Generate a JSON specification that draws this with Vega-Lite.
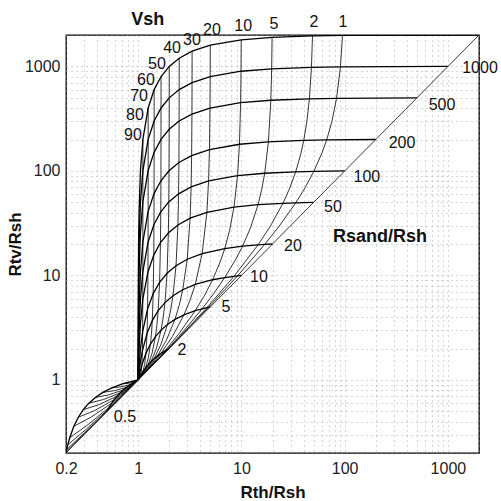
{
  "$schema": "https://vega.github.io/schema/vega-lite/v6.json",
  "width": 413,
  "height": 418,
  "autosize": {"type": "none"},
  "padding": {"left": 66, "top": 35, "right": 22, "bottom": 48},
  "background": "white",
  "config": {
    "view": {"stroke": "black", "strokeWidth": 1.3},
    "font": "Liberation Sans"
  },
  "datasets": {
    "rsand": [
      {"c":"r2000","x":2000,"y":2000},{"c":"r2000","x":95.28,"y":1980},{"c":"r2000","x":48.80,"y":1960},{"c":"r2000","x":19.81,"y":1900},{"c":"r2000","x":9.955,"y":1800.1},{"c":"r2000","x":4.990,"y":1600.2},{"c":"r2000","x":3.329,"y":1400.3},{"c":"r2000","x":2.498,"y":1200.4},{"c":"r2000","x":1.999,"y":1000.5},{"c":"r2000","x":1.6661,"y":800.6},{"c":"r2000","x":1.4283,"y":600.7},{"c":"r2000","x":1.2498,"y":400.8},{"c":"r2000","x":1.1111,"y":200.9},{"c":"r2000","x":1.0526,"y":100.95},{"c":"r2000","x":1.0204,"y":40.98},{"c":"r2000","x":1.0101,"y":20.99},{"c":"r2000","x":1.0050,"y":10.995},{"c":"r2000","x":1,"y":1},
      {"c":"r1000","x":1000,"y":1000},{"c":"r1000","x":90.99,"y":990},{"c":"r1000","x":47.66,"y":980},{"c":"r1000","x":19.63,"y":950.05},{"c":"r1000","x":9.911,"y":900.1},{"c":"r1000","x":4.980,"y":800.2},{"c":"r1000","x":3.326,"y":700.3},{"c":"r1000","x":2.496,"y":600.4},{"c":"r1000","x":1.998,"y":500.5},{"c":"r1000","x":1.6656,"y":400.6},{"c":"r1000","x":1.4280,"y":300.7},{"c":"r1000","x":1.2497,"y":200.8},{"c":"r1000","x":1.1110,"y":100.9},{"c":"r1000","x":1.0526,"y":50.95},{"c":"r1000","x":1.0204,"y":20.98},{"c":"r1000","x":1.0101,"y":10.99},{"c":"r1000","x":1,"y":1},
      {"c":"r500","x":500,"y":500},{"c":"r500","x":83.47,"y":495.01},{"c":"r500","x":45.54,"y":490.02},{"c":"r500","x":19.27,"y":475.05},{"c":"r500","x":9.823,"y":450.1},{"c":"r500","x":4.960,"y":400.2},{"c":"r500","x":3.318,"y":350.3},{"c":"r500","x":2.4925,"y":300.4},{"c":"r500","x":1.996,"y":250.5},{"c":"r500","x":1.6644,"y":200.6},{"c":"r500","x":1.4274,"y":150.7},{"c":"r500","x":1.2494,"y":100.8},{"c":"r500","x":1.1109,"y":50.9},{"c":"r500","x":1.0525,"y":25.95},{"c":"r500","x":1.0204,"y":10.98},{"c":"r500","x":1.0101,"y":5.99},{"c":"r500","x":1,"y":1},
      {"c":"r200","x":200,"y":200},{"c":"r200","x":66.89,"y":198.01},{"c":"r200","x":40.16,"y":196.02},{"c":"r200","x":18.26,"y":190.05},{"c":"r200","x":9.569,"y":180.1},{"c":"r200","x":4.902,"y":160.2},{"c":"r200","x":3.295,"y":140.3},{"c":"r200","x":2.481,"y":120.4},{"c":"r200","x":1.990,"y":100.5},{"c":"r200","x":1.6611,"y":80.6},{"c":"r200","x":1.4255,"y":60.7},{"c":"r200","x":1.2484,"y":40.8},{"c":"r200","x":1.1105,"y":20.9},{"c":"r200","x":1.0524,"y":10.95},{"c":"r200","x":1.0203,"y":4.98},{"c":"r200","x":1.0100,"y":2.99},{"c":"r200","x":1,"y":1},
      {"c":"r100","x":100,"y":100},{"c":"r100","x":50.25,"y":99.01},{"c":"r100","x":33.56,"y":98.02},{"c":"r100","x":16.81,"y":95.05},{"c":"r100","x":9.174,"y":90.1},{"c":"r100","x":4.808,"y":80.2},{"c":"r100","x":3.257,"y":70.3},{"c":"r100","x":2.463,"y":60.4},{"c":"r100","x":1.980,"y":50.5},{"c":"r100","x":1.6556,"y":40.6},{"c":"r100","x":1.4225,"y":30.7},{"c":"r100","x":1.2469,"y":20.8},{"c":"r100","x":1.1099,"y":10.9},{"c":"r100","x":1.0521,"y":5.95},{"c":"r100","x":1.0202,"y":2.98},{"c":"r100","x":1.0100,"y":1.99},{"c":"r100","x":1,"y":1},
      {"c":"r50","x":50,"y":50},{"c":"r50","x":33.56,"y":49.51},{"c":"r50","x":25.25,"y":49.02},{"c":"r50","x":14.49,"y":47.55},{"c":"r50","x":8.475,"y":45.1},{"c":"r50","x":4.630,"y":40.2},{"c":"r50","x":3.185,"y":35.3},{"c":"r50","x":2.427,"y":30.4},{"c":"r50","x":1.961,"y":25.5},{"c":"r50","x":1.6447,"y":20.6},{"c":"r50","x":1.4164,"y":15.7},{"c":"r50","x":1.2438,"y":10.8},{"c":"r50","x":1.1086,"y":5.9},{"c":"r50","x":1.0515,"y":3.45},{"c":"r50","x":1.0200,"y":1.98},{"c":"r50","x":1,"y":1},
      {"c":"r20","x":20,"y":20},{"c":"r20","x":16.81,"y":19.81},{"c":"r20","x":14.49,"y":19.62},{"c":"r20","x":10.26,"y":19.05},{"c":"r20","x":6.897,"y":18.1},{"c":"r20","x":4.167,"y":16.2},{"c":"r20","x":2.985,"y":14.3},{"c":"r20","x":2.326,"y":12.4},{"c":"r20","x":1.905,"y":10.5},{"c":"r20","x":1.6129,"y":8.6},{"c":"r20","x":1.3986,"y":6.7},{"c":"r20","x":1.2346,"y":4.8},{"c":"r20","x":1.1050,"y":2.9},{"c":"r20","x":1.0499,"y":1.95},{"c":"r20","x":1,"y":1},
      {"c":"r10","x":10,"y":10},{"c":"r10","x":9.174,"y":9.91},{"c":"r10","x":8.475,"y":9.82},{"c":"r10","x":6.897,"y":9.55},{"c":"r10","x":5.263,"y":9.1},{"c":"r10","x":3.571,"y":8.2},{"c":"r10","x":2.703,"y":7.3},{"c":"r10","x":2.174,"y":6.4},{"c":"r10","x":1.818,"y":5.5},{"c":"r10","x":1.5625,"y":4.6},{"c":"r10","x":1.3699,"y":3.7},{"c":"r10","x":1.2195,"y":2.8},{"c":"r10","x":1.0989,"y":1.9},{"c":"r10","x":1.0471,"y":1.45},{"c":"r10","x":1,"y":1},
      {"c":"r5","x":5,"y":5},{"c":"r5","x":4.808,"y":4.96},{"c":"r5","x":4.630,"y":4.92},{"c":"r5","x":4.167,"y":4.8},{"c":"r5","x":3.571,"y":4.6},{"c":"r5","x":2.778,"y":4.2},{"c":"r5","x":2.273,"y":3.8},{"c":"r5","x":1.923,"y":3.4},{"c":"r5","x":1.667,"y":3.0},{"c":"r5","x":1.4706,"y":2.6},{"c":"r5","x":1.3158,"y":2.2},{"c":"r5","x":1.1905,"y":1.8},{"c":"r5","x":1.0870,"y":1.4},{"c":"r5","x":1,"y":1},
      {"c":"r2","x":2,"y":2},{"c":"r2","x":1.905,"y":1.95},{"c":"r2","x":1.818,"y":1.9},{"c":"r2","x":1.667,"y":1.8},{"c":"r2","x":1.538,"y":1.7},{"c":"r2","x":1.4286,"y":1.6},{"c":"r2","x":1.3333,"y":1.5},{"c":"r2","x":1.25,"y":1.4},{"c":"r2","x":1.1765,"y":1.3},{"c":"r2","x":1.1111,"y":1.2},{"c":"r2","x":1.0526,"y":1.1},{"c":"r2","x":1,"y":1},
      {"c":"r0.5","x":0.5,"y":0.5},{"c":"r0.5","x":0.5263,"y":0.55},{"c":"r0.5","x":0.5556,"y":0.6},{"c":"r0.5","x":0.5882,"y":0.65},{"c":"r0.5","x":0.625,"y":0.7},{"c":"r0.5","x":0.6667,"y":0.75},{"c":"r0.5","x":0.7143,"y":0.8},{"c":"r0.5","x":0.7692,"y":0.85},{"c":"r0.5","x":0.8333,"y":0.9},{"c":"r0.5","x":0.9091,"y":0.95},{"c":"r0.5","x":1,"y":1},
      {"c":"r0.2","x":0.2,"y":0.2},{"c":"r0.2","x":0.2016,"y":0.208},{"c":"r0.2","x":0.2033,"y":0.216},{"c":"r0.2","x":0.2083,"y":0.24},{"c":"r0.2","x":0.2174,"y":0.28},{"c":"r0.2","x":0.2381,"y":0.36},{"c":"r0.2","x":0.2632,"y":0.44},{"c":"r0.2","x":0.2941,"y":0.52},{"c":"r0.2","x":0.3333,"y":0.6},{"c":"r0.2","x":0.3846,"y":0.68},{"c":"r0.2","x":0.4545,"y":0.76},{"c":"r0.2","x":0.5556,"y":0.84},{"c":"r0.2","x":0.7143,"y":0.92},{"c":"r0.2","x":0.8333,"y":0.96},{"c":"r0.2","x":1,"y":1}
    ],
    "vshale": [
      {"c":"v1","x":0.2016,"y":0.208},{"c":"v1","x":0.3021,"y":0.307},{"c":"v1","x":0.5025,"y":0.505},{"c":"v1","x":0.7021,"y":0.703},{"c":"v1","x":1,"y":1},{"c":"v1","x":1.980,"y":1.99},{"c":"v1","x":4.808,"y":4.96},{"c":"v1","x":9.174,"y":9.91},{"c":"v1","x":16.81,"y":19.81},{"c":"v1","x":23.26,"y":29.71},{"c":"v1","x":33.56,"y":49.51},{"c":"v1","x":41.42,"y":69.31},{"c":"v1","x":50.25,"y":99.01},{"c":"v1","x":60.24,"y":148.51},{"c":"v1","x":66.89,"y":198.01},{"c":"v1","x":75.19,"y":297.01},{"c":"v1","x":83.47,"y":495.01},{"c":"v1","x":90.99,"y":990.01},{"c":"v1","x":95.28,"y":1980},
      {"c":"v2","x":0.2033,"y":0.216},{"c":"v2","x":0.3043,"y":0.314},{"c":"v2","x":0.5051,"y":0.51},{"c":"v2","x":0.7042,"y":0.706},{"c":"v2","x":1,"y":1},{"c":"v2","x":1.961,"y":1.98},{"c":"v2","x":4.630,"y":4.92},{"c":"v2","x":8.475,"y":9.82},{"c":"v2","x":14.49,"y":19.62},{"c":"v2","x":18.99,"y":29.42},{"c":"v2","x":25.25,"y":49.02},{"c":"v2","x":29.41,"y":68.62},{"c":"v2","x":33.56,"y":98.02},{"c":"v2","x":37.69,"y":147.02},{"c":"v2","x":40.16,"y":196.02},{"c":"v2","x":42.98,"y":294.02},{"c":"v2","x":45.54,"y":490.02},{"c":"v2","x":47.66,"y":980.02},{"c":"v2","x":48.80,"y":1960},
      {"c":"v5","x":0.2083,"y":0.24},{"c":"v5","x":0.3109,"y":0.335},{"c":"v5","x":0.5128,"y":0.525},{"c":"v5","x":0.7107,"y":0.715},{"c":"v5","x":1,"y":1},{"c":"v5","x":1.4634,"y":1.475},{"c":"v5","x":1.905,"y":1.95},{"c":"v5","x":2.727,"y":2.9},{"c":"v5","x":4.167,"y":4.8},{"c":"v5","x":5.385,"y":6.7},{"c":"v5","x":6.897,"y":9.55},{"c":"v5","x":8.824,"y":14.3},{"c":"v5","x":10.26,"y":19.05},{"c":"v5","x":12.24,"y":28.55},{"c":"v5","x":14.49,"y":47.55},{"c":"v5","x":15.73,"y":66.55},{"c":"v5","x":16.81,"y":95.05},{"c":"v5","x":18.26,"y":190.05},{"c":"v5","x":19.27,"y":475.05},{"c":"v5","x":19.63,"y":950.05},{"c":"v5","x":19.81,"y":1900.05},
      {"c":"v10","x":0.2174,"y":0.28},{"c":"v10","x":0.3226,"y":0.37},{"c":"v10","x":0.5263,"y":0.55},{"c":"v10","x":0.7216,"y":0.73},{"c":"v10","x":1,"y":1},{"c":"v10","x":1.4286,"y":1.45},{"c":"v10","x":1.818,"y":1.9},{"c":"v10","x":2.5,"y":2.8},{"c":"v10","x":3.571,"y":4.6},{"c":"v10","x":4.375,"y":6.4},{"c":"v10","x":5.263,"y":9.1},{"c":"v10","x":6.25,"y":13.6},{"c":"v10","x":6.897,"y":18.1},{"c":"v10","x":7.692,"y":27.1},{"c":"v10","x":8.475,"y":45.1},{"c":"v10","x":9.174,"y":90.1},{"c":"v10","x":9.569,"y":180.1},{"c":"v10","x":9.823,"y":450.1},{"c":"v10","x":9.911,"y":900.1},{"c":"v10","x":9.955,"y":1800.1},
      {"c":"v20","x":0.2381,"y":0.36},{"c":"v20","x":0.3488,"y":0.44},{"c":"v20","x":0.5556,"y":0.6},{"c":"v20","x":0.7447,"y":0.76},{"c":"v20","x":1,"y":1},{"c":"v20","x":1.3636,"y":1.4},{"c":"v20","x":1.667,"y":1.8},{"c":"v20","x":2.143,"y":2.6},{"c":"v20","x":2.778,"y":4.2},{"c":"v20","x":3.182,"y":5.8},{"c":"v20","x":3.571,"y":8.2},{"c":"v20","x":4.167,"y":16.2},{"c":"v20","x":4.630,"y":40.2},{"c":"v20","x":4.808,"y":80.2},{"c":"v20","x":4.902,"y":160.2},{"c":"v20","x":4.960,"y":400.2},{"c":"v20","x":4.980,"y":800.2},{"c":"v20","x":4.990,"y":1600.2},
      {"c":"v30","x":0.2632,"y":0.44},{"c":"v30","x":0.3797,"y":0.51},{"c":"v30","x":0.5882,"y":0.65},{"c":"v30","x":0.7692,"y":0.79},{"c":"v30","x":1,"y":1},{"c":"v30","x":1.3043,"y":1.35},{"c":"v30","x":1.538,"y":1.7},{"c":"v30","x":1.875,"y":2.4},{"c":"v30","x":2.273,"y":3.8},{"c":"v30","x":2.5,"y":5.2},{"c":"v30","x":2.703,"y":7.3},{"c":"v30","x":2.985,"y":14.3},{"c":"v30","x":3.185,"y":35.3},{"c":"v30","x":3.257,"y":70.3},{"c":"v30","x":3.295,"y":140.3},{"c":"v30","x":3.318,"y":350.3},{"c":"v30","x":3.326,"y":700.3},{"c":"v30","x":3.329,"y":1400.3},
      {"c":"v40","x":0.2941,"y":0.52},{"c":"v40","x":0.4167,"y":0.58},{"c":"v40","x":0.625,"y":0.7},{"c":"v40","x":0.7955,"y":0.82},{"c":"v40","x":1,"y":1},{"c":"v40","x":1.25,"y":1.3},{"c":"v40","x":1.4286,"y":1.6},{"c":"v40","x":1.6667,"y":2.2},{"c":"v40","x":1.923,"y":3.4},{"c":"v40","x":2.059,"y":4.6},{"c":"v40","x":2.174,"y":6.4},{"c":"v40","x":2.326,"y":12.4},{"c":"v40","x":2.427,"y":30.4},{"c":"v40","x":2.463,"y":60.4},{"c":"v40","x":2.481,"y":120.4},{"c":"v40","x":2.4925,"y":300.4},{"c":"v40","x":2.496,"y":600.4},{"c":"v40","x":2.498,"y":1200.4},
      {"c":"v50","x":0.3333,"y":0.6},{"c":"v50","x":0.4615,"y":0.65},{"c":"v50","x":0.6667,"y":0.75},{"c":"v50","x":0.8235,"y":0.85},{"c":"v50","x":1,"y":1},{"c":"v50","x":1.2,"y":1.25},{"c":"v50","x":1.3333,"y":1.5},{"c":"v50","x":1.5,"y":2},{"c":"v50","x":1.6667,"y":3},{"c":"v50","x":1.75,"y":4},{"c":"v50","x":1.818,"y":5.5},{"c":"v50","x":1.905,"y":10.5},{"c":"v50","x":1.961,"y":25.5},{"c":"v50","x":1.980,"y":50.5},{"c":"v50","x":1.990,"y":100.5},{"c":"v50","x":1.996,"y":250.5},{"c":"v50","x":1.998,"y":500.5},{"c":"v50","x":1.999,"y":1000.5},
      {"c":"v60","x":0.3846,"y":0.68},{"c":"v60","x":0.5172,"y":0.72},{"c":"v60","x":0.7143,"y":0.8},{"c":"v60","x":0.8537,"y":0.88},{"c":"v60","x":1,"y":1},{"c":"v60","x":1.1538,"y":1.2},{"c":"v60","x":1.25,"y":1.4},{"c":"v60","x":1.3636,"y":1.8},{"c":"v60","x":1.4706,"y":2.6},{"c":"v60","x":1.5217,"y":3.4},{"c":"v60","x":1.5625,"y":4.6},{"c":"v60","x":1.6129,"y":8.6},{"c":"v60","x":1.6447,"y":20.6},{"c":"v60","x":1.6556,"y":40.6},{"c":"v60","x":1.6611,"y":80.6},{"c":"v60","x":1.6644,"y":200.6},{"c":"v60","x":1.6656,"y":400.6},{"c":"v60","x":1.6661,"y":800.6},
      {"c":"v70","x":0.4545,"y":0.76},{"c":"v70","x":0.5882,"y":0.79},{"c":"v70","x":0.7692,"y":0.85},{"c":"v70","x":0.8861,"y":0.91},{"c":"v70","x":1,"y":1},{"c":"v70","x":1.1111,"y":1.15},{"c":"v70","x":1.1765,"y":1.3},{"c":"v70","x":1.25,"y":1.6},{"c":"v70","x":1.3158,"y":2.2},{"c":"v70","x":1.3462,"y":2.8},{"c":"v70","x":1.3699,"y":3.7},{"c":"v70","x":1.3986,"y":6.7},{"c":"v70","x":1.4164,"y":15.7},{"c":"v70","x":1.4225,"y":30.7},{"c":"v70","x":1.4255,"y":60.7},{"c":"v70","x":1.4274,"y":150.7},{"c":"v70","x":1.4280,"y":300.7},{"c":"v70","x":1.4283,"y":600.7},
      {"c":"v80","x":0.5556,"y":0.84},{"c":"v80","x":0.6818,"y":0.86},{"c":"v80","x":0.8333,"y":0.9},{"c":"v80","x":0.9211,"y":0.94},{"c":"v80","x":1,"y":1},{"c":"v80","x":1.0714,"y":1.1},{"c":"v80","x":1.1111,"y":1.2},{"c":"v80","x":1.1538,"y":1.4},{"c":"v80","x":1.1905,"y":1.8},{"c":"v80","x":1.2195,"y":2.8},{"c":"v80","x":1.2346,"y":4.8},{"c":"v80","x":1.2438,"y":10.8},{"c":"v80","x":1.2469,"y":20.8},{"c":"v80","x":1.2484,"y":40.8},{"c":"v80","x":1.2494,"y":100.8},{"c":"v80","x":1.2497,"y":200.8},{"c":"v80","x":1.2498,"y":400.8},
      {"c":"v90","x":0.7143,"y":0.92},{"c":"v90","x":0.8108,"y":0.93},{"c":"v90","x":0.9091,"y":0.95},{"c":"v90","x":0.9589,"y":0.97},{"c":"v90","x":1,"y":1},{"c":"v90","x":1.0345,"y":1.05},{"c":"v90","x":1.0526,"y":1.1},{"c":"v90","x":1.0714,"y":1.2},{"c":"v90","x":1.0870,"y":1.4},{"c":"v90","x":1.0989,"y":1.9},{"c":"v90","x":1.1050,"y":2.9},{"c":"v90","x":1.1086,"y":5.9},{"c":"v90","x":1.1099,"y":10.9},{"c":"v90","x":1.1105,"y":20.9},{"c":"v90","x":1.1109,"y":50.9},{"c":"v90","x":1.1110,"y":100.9},{"c":"v90","x":1.1111,"y":200.9}
    ],
    "clean": [
      {"x": 0.2, "y": 0.2},
      {"x": 2000, "y": 2000}
    ],
    "numbers": [
      {"x": 2046, "y": 966, "t": "1000"},
      {"x": 877, "y": 428, "t": "500"},
      {"x": 359, "y": 185, "t": "200"},
      {"x": 164, "y": 87.5, "t": "100"},
      {"x": 77, "y": 45, "t": "50"},
      {"x": 31.6, "y": 19.1, "t": "20"},
      {"x": 14.8, "y": 9.7, "t": "10"},
      {"x": 7.1, "y": 5.0, "t": "5"},
      {"x": 2.66, "y": 1.94, "t": "2"},
      {"x": 0.745, "y": 0.44, "t": "0.5"},
      {"x": 96.4, "y": 2663, "t": "1"},
      {"x": 50.5, "y": 2663, "t": "2"},
      {"x": 20.7, "y": 2547, "t": "5"},
      {"x": 10.4, "y": 2438, "t": "10"},
      {"x": 5.19, "y": 2233, "t": "20"},
      {"x": 3.32, "y": 1792, "t": "30"},
      {"x": 2.13, "y": 1503, "t": "40"},
      {"x": 1.52, "y": 1056, "t": "50"},
      {"x": 1.19, "y": 742, "t": "60"},
      {"x": 1.02, "y": 522, "t": "70"},
      {"x": 0.93, "y": 343, "t": "80"},
      {"x": 0.89, "y": 221, "t": "90"}
    ],
    "titles": [
      {"x": 1.24, "y": 2785, "t": "Vsh"},
      {"x": 220, "y": 23.3, "t": "Rsand/Rsh"}
    ]
  },
  "encoding": {
    "x": {
      "field": "x",
      "type": "quantitative",
      "scale": {"type": "log", "domain": [0.2, 2000], "nice": false},
      "axis": {
        "values": [0.2,0.3,0.4,0.5,0.6,0.7,0.8,0.9,1,2,3,4,5,6,7,8,9,10,20,30,40,50,60,70,80,90,100,200,300,400,500,600,700,800,900,1000,2000],
        "format": "~g",
        "labelExpr": "(datum.value == 0.2 || datum.value == 1 || datum.value == 10 || datum.value == 100 || datum.value == 1000) ? datum.label : ''",
        "grid": true,
        "gridDash": [1, 4],
        "gridColor": "#8c8c9e",
        "gridOpacity": 0.75,
        "gridWidth": 1,
        "ticks": false,
        "domain": false,
        "labelFlush": false,
        "labelOverlap": false,
        "labelFontSize": 16,
        "labelColor": "#222",
        "labelPadding": 7,
        "title": "Rth/Rsh",
        "titleFontSize": 17,
        "titleFontWeight": "bold",
        "titleColor": "#111",
        "titlePadding": 8
      }
    },
    "y": {
      "field": "y",
      "type": "quantitative",
      "scale": {"type": "log", "domain": [0.2, 2000], "nice": false},
      "axis": {
        "values": [0.2,0.3,0.4,0.5,0.6,0.7,0.8,0.9,1,2,3,4,5,6,7,8,9,10,20,30,40,50,60,70,80,90,100,200,300,400,500,600,700,800,900,1000,2000],
        "format": "~g",
        "labelExpr": "(datum.value == 1 || datum.value == 10 || datum.value == 100 || datum.value == 1000) ? datum.label : ''",
        "grid": true,
        "gridDash": [1, 4],
        "gridColor": "#8c8c9e",
        "gridOpacity": 0.75,
        "gridWidth": 1,
        "ticks": false,
        "domain": false,
        "labelFlush": false,
        "labelOverlap": false,
        "labelFontSize": 16,
        "labelColor": "#222",
        "labelPadding": 6,
        "title": "Rtv/Rsh",
        "titleFontSize": 17,
        "titleFontWeight": "bold",
        "titleColor": "#111",
        "titlePadding": 0
      }
    }
  },
  "layer": [
    {
      "data": {"name": "rsand"},
      "mark": {"type": "line", "color": "black", "strokeWidth": 1.3, "clip": true},
      "encoding": {"detail": {"field": "c", "type": "nominal"}}
    },
    {
      "data": {"name": "vshale"},
      "mark": {"type": "line", "color": "black", "strokeWidth": 0.8, "clip": true},
      "encoding": {"detail": {"field": "c", "type": "nominal"}}
    },
    {
      "data": {"name": "clean"},
      "mark": {"type": "line", "color": "#222", "strokeWidth": 0.9, "clip": true},
      "encoding": {}
    },
    {
      "data": {"name": "numbers"},
      "mark": {"type": "text", "fontSize": 16, "color": "#111", "align": "center", "baseline": "middle"},
      "encoding": {"text": {"field": "t", "type": "nominal"}}
    },
    {
      "data": {"name": "titles"},
      "mark": {"type": "text", "fontSize": 18, "fontWeight": "bold", "color": "#111", "align": "center", "baseline": "middle"},
      "encoding": {"text": {"field": "t", "type": "nominal"}}
    }
  ]
}
